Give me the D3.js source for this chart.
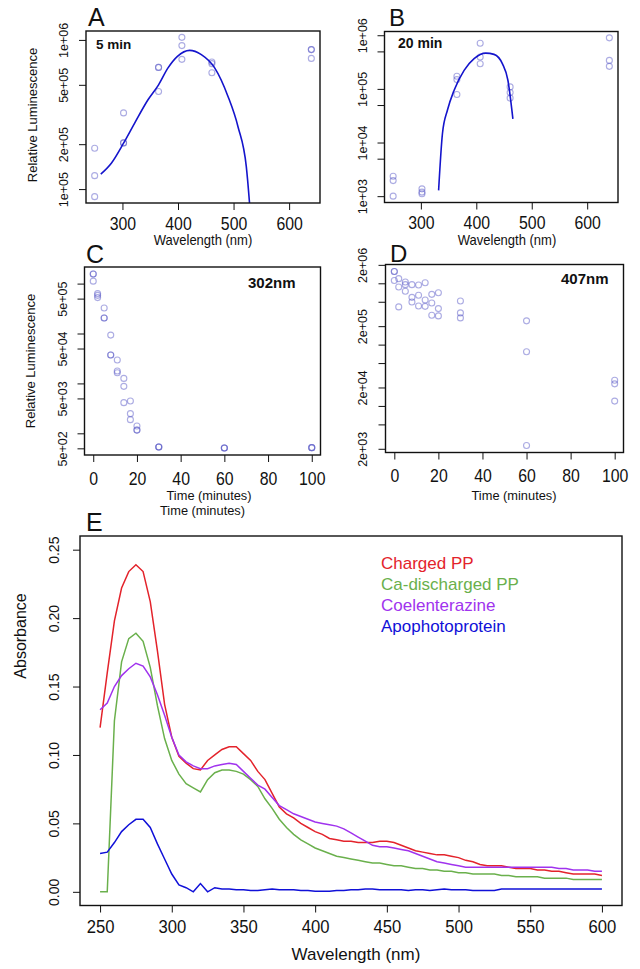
<!DOCTYPE html>
<html><head><meta charset="utf-8">
<script src="https://cdn.jsdelivr.net/npm/d3@7"></script>
<style>
body{margin:0;background:#fff;}
svg text{font-family:"Liberation Sans",Arial,Helvetica,sans-serif;}
</style></head><body>
<svg id="fig" width="640" height="969"></svg>
<script>
// ---------- Panel A: 5 min ----------
const wlA  = [250,250,250, 302,302,302, 365,365,365, 407,407,407, 461,461,461, 640,640,640];
const lumA = [1.88e5,1.23e5,8.9e4, 3.24e5,2.04e5,2.04e5, 6.54e5,6.54e5,4.51e5, 1.04e6,9.16e5,7.41e5, 7.11e5,6.93e5,6.03e5, 8.61e5,8.61e5,7.52e5];
const fitWlA  = [261,280,302,322,346,365,382,399,421,442,466,490,508,523,533];
const fitLumA = [1.26e5,1.49e5,2.03e5,2.77e5,3.97e5,5.0e5,6.49e5,7.76e5,8.51e5,7.96e5,6.49e5,4.18e5,2.62e5,1.41e5,5e4];
const yTicksA = [1e5,2e5,5e5,1e6];
const yLabelsA = ["1e+05","2e+05","5e+05","1e+06"];

// ---------- Panel B: 20 min ----------
const wlB  = [250,250,250, 302,302,302, 365,365,365, 407,407,407, 461,461,461, 640,640,640];
const lumB = [2.35e3,1.95e3,1.0e3, 1.37e3,1.19e3,1.11e3, 1.72e5,1.49e5,7.87e4, 7.1e5,3.92e5,2.95e5, 1.09e5,8.57e4,6.73e4, 8.95e5,3.4e5,2.63e5];
const fitWlB  = [332,339,348,360,378,396,417,432,447,457,466];
const fitLumB = [1.28e3,1.49e4,4.04e4,9.46e4,2.22e5,3.66e5,4.65e5,4.4e5,2.95e5,1.45e5,2.75e4];
const yTicksB = [1e3,5e3,1e4,5e4,1e5,5e5,1e6];
const yLabelsB = ["1e+03","","1e+04","","1e+05","","1e+06"];

const wlTicks = [300,400,500,600];

// ---------- Panel C: 302nm ----------
const timeC = [0,0,0, 2,2,2, 5,5,5, 8,8,8, 11,11,11, 14,14,14, 17,17,17, 20,20,20, 30,30,30, 60,60,60, 100,100,100];
const lumC  = [1.56e6,1.56e6,1.12e6, 6.3e5,5.82e5,5.24e5, 3.24e5,2.04e5,2.04e5, 9.3e4,3.7e4,3.7e4, 2.94e4,1.77e4,1.64e4,
               1.26e4,8.74e3,4.12e3, 4.44e3,2.48e3,1.88e3, 1.4e3,1.16e3,1.16e3, 531,531,531, 507,507,507, 516,516,516];
const yTicksC = [5e2,1e3,5e3,1e4,5e4,1e5,5e5,1e6];
const yLabelsC = ["5e+02","","5e+03","","5e+04","","5e+05",""];

// ---------- Panel D: 407nm ----------
const timeD = [0,0,0, 2,2,2, 5,5,5, 8,8,8, 11,11,11, 14,14,14, 17,17,17, 20,20,20, 30,30,30, 60,60,60, 100,100,100];
const lumD  = [1.56e6,1.56e6,1.11e6, 1.19e6,8.7e5,4.12e5, 1.05e6,9.5e5,7.4e5, 9.5e5,5.9e5,4.96e5, 9.4e5,6.37e5,4.27e5,
               1.02e6,5.35e5,4.21e5, 6.6e5,4.78e5,3.01e5, 7.03e5,3.87e5,2.94e5, 5.15e5,3.29e5,2.73e5, 2.44e5,7.67e4,2.26e3, 2.63e4,2.29e4,1.2e4];
const yTicksD = [2e3,5e3,1e4,2e4,5e4,1e5,2e5,5e5,1e6,2e6];
const yLabelsD = ["2e+03","","","2e+04","","","2e+05","","","2e+06"];

const timeTicks = [0,20,40,60,80,100];

// ---------- Panel E: absorbance spectra ----------
const specWl = [250,255,260,265,270,275,280,285,290,295,300,305,310,315,320,325,330,335,340,345,350,355,360,365,370,375,380,385,390,395,
                400,405,410,415,420,425,430,435,440,445,450,455,460,465,470,475,480,485,490,495,500,505,510,515,520,525,530,535,540,545,
                550,555,560,565,570,575,580,585,590,595,600];
const chargedPP = [0.120,0.160,0.198,0.222,0.234,0.239,0.234,0.212,0.176,0.137,0.113,0.099,0.094,0.090,0.089,0.096,0.100,0.104,0.106,0.106,
                   0.101,0.096,0.088,0.082,0.072,0.062,0.057,0.054,0.050,0.047,0.044,0.042,0.039,0.038,0.037,0.037,0.036,0.036,0.036,0.037,
                   0.037,0.036,0.034,0.032,0.030,0.029,0.028,0.027,0.027,0.026,0.025,0.023,0.022,0.020,0.019,0.019,0.019,0.018,0.017,0.017,
                   0.017,0.016,0.016,0.015,0.015,0.014,0.013,0.013,0.013,0.013,0.012];
const caDischargedPP = [0.000,0.000,0.125,0.168,0.185,0.189,0.183,0.164,0.136,0.112,0.096,0.086,0.079,0.076,0.073,0.082,0.087,0.089,0.089,0.088,
                   0.086,0.082,0.077,0.068,0.061,0.053,0.047,0.042,0.038,0.035,0.032,0.030,0.028,0.026,0.025,0.024,0.023,0.022,0.021,0.021,
                   0.020,0.019,0.019,0.018,0.017,0.017,0.016,0.016,0.015,0.015,0.014,0.014,0.013,0.013,0.013,0.013,0.012,0.012,0.011,0.011,
                   0.011,0.011,0.010,0.010,0.010,0.010,0.009,0.009,0.009,0.009,0.009];
const coelenterazine = [0.133,0.138,0.150,0.158,0.163,0.167,0.165,0.157,0.144,0.129,0.113,0.100,0.095,0.092,0.090,0.090,0.092,0.093,0.094,0.093,
                   0.088,0.083,0.078,0.075,0.069,0.063,0.060,0.057,0.055,0.053,0.051,0.050,0.049,0.048,0.046,0.043,0.040,0.037,0.034,0.033,
                   0.033,0.032,0.031,0.030,0.028,0.026,0.024,0.022,0.021,0.020,0.019,0.018,0.018,0.018,0.018,0.018,0.018,0.018,0.018,0.018,
                   0.018,0.018,0.018,0.018,0.017,0.017,0.016,0.016,0.016,0.015,0.015];
const apophotoprotein = [0.028,0.029,0.036,0.044,0.049,0.053,0.053,0.047,0.035,0.024,0.013,0.005,0.003,0.000,0.006,0.000,0.003,0.002,0.002,0.0015,
                   0.0015,0.001,0.001,0.0015,0.002,0.0015,0.0015,0.0015,0.001,0.001,0.0005,0.0005,0.0005,0.001,0.001,0.0015,0.0015,0.002,0.002,0.0015,
                   0.0015,0.0015,0.0015,0.001,0.0015,0.0015,0.001,0.0015,0.002,0.0015,0.0015,0.0015,0.001,0.001,0.001,0.001,0.002,0.002,0.002,0.002,
                   0.002,0.002,0.002,0.002,0.002,0.002,0.002,0.002,0.002,0.002,0.002];
const seriesNames = ["Charged PP","Ca-discharged PP","Coelenterazine","Apophotoprotein"];
const seriesColors = ["#e3232b","#6ab04c","#a033ee","#1010d8"];
const absTicks = [0,0.05,0.10,0.15,0.20,0.25];
const absLabels = ["0.00","0.05","0.10","0.15","0.20","0.25"];
const specTicks = [250,300,350,400,450,500,550,600];

// ---------- helpers ----------
const svg = d3.select("#fig");
const FONT = '"Liberation Sans", Arial, Helvetica, sans-serif';
function linPad(v){ const e=d3.extent(v); const p=(e[1]-e[0])*0.04; return [e[0]-p,e[1]+p]; }
function logPad(v){ const e=d3.extent(v.map(Math.log10)); const p=(e[1]-e[0])*0.04; return [Math.pow(10,e[0]-p),Math.pow(10,e[1]+p)]; }

function addText(x,y,txt,opt){
  opt = opt||{};
  return svg.append("text").attr("x",0).attr("y",0)
    .attr("transform",`translate(${x},${y})` + (opt.rot?` rotate(${opt.rot})`:"") + (opt.sx?` scale(${opt.sx},1)`:""))
    .attr("font-size",opt.size||13).attr("text-anchor",opt.anchor||"start")
    .attr("font-weight",opt.bold?"bold":"normal").attr("fill",opt.color||"#111").attr("font-family",FONT)
    .text(txt);
}

function xAxis(x, o, ticks, size, sx){
  const g = svg.append("g").attr("transform",`translate(0,${o.b})`)
    .call(d3.axisBottom(x).tickValues(ticks).tickFormat(d=>d).tickSize(7).tickSizeOuter(0));
  g.select(".domain").remove();
  g.selectAll("line").attr("stroke","#111").attr("stroke-width",1);
  g.selectAll("text").attr("y",null).attr("dy",null)
    .attr("transform",`translate(0,${o.xlab-o.b}) scale(${sx},1)`)
    .attr("font-size",size).attr("font-family",FONT).attr("fill","#111");
}
function yAxis(y, o, ticks, labels, size){
  const g = svg.append("g").attr("transform",`translate(${o.l},0)`)
    .call(d3.axisLeft(y).tickValues(ticks).tickFormat((d,i)=>labels[i]).tickSize(7).tickSizeOuter(0));
  g.select(".domain").remove();
  g.selectAll("line").attr("stroke","#111").attr("stroke-width",1);
  g.selectAll("text").attr("x",null).attr("dy",null).attr("text-anchor","middle")
    .attr("transform",`translate(${-o.ylab},0) rotate(-90)`).attr("font-size",size).attr("font-family",FONT).attr("fill","#111");
}
function box(o){
  svg.append("rect").attr("x",o.l).attr("y",o.t).attr("width",o.r-o.l).attr("height",o.b-o.t)
    .attr("fill","none").attr("stroke","#111").attr("stroke-width",1.4);
}
function clip(o,id){
  svg.append("clipPath").attr("id",id).append("rect").attr("x",o.l).attr("y",o.t).attr("width",o.r-o.l).attr("height",o.b-o.t);
}

function scatterPanel(o){
  const x = d3.scaleLinear().domain(linPad(o.xs)).range([o.l,o.r]);
  const y = d3.scaleLog().domain(logPad(o.ys)).range([o.b,o.t]);
  clip(o,"clip"+o.id);
  svg.append("g").selectAll("circle").data(o.xs.map((d,i)=>[d,o.ys[i]])).join("circle")
    .attr("cx",d=>x(d[0])).attr("cy",d=>y(d[1])).attr("r",3)
    .attr("fill","none").attr("stroke","#5a5ac8").attr("stroke-opacity",0.5).attr("stroke-width",1.1);
  if(o.fx){
    const line = d3.line().x(d=>x(d[0])).y(d=>y(d[1])).curve(d3.curveMonotoneX);
    svg.append("path").attr("clip-path",`url(#clip${o.id})`)
      .attr("d",line(o.fx.map((d,i)=>[d,o.fy[i]])))
      .attr("fill","none").attr("stroke","#1414cc").attr("stroke-width",1.6);
  }
  xAxis(x,o,o.xt,18,0.88);
  yAxis(y,o,o.yt,o.yl,12.5);
  box(o);
}

// ---------- draw panels ----------
scatterPanel({id:"A",l:86,r:320,t:31,b:203,xlab:229.5,ylab:18,xs:wlA,ys:lumA,fx:fitWlA,fy:fitLumA,xt:wlTicks,yt:yTicksA,yl:yLabelsA});
scatterPanel({id:"B",l:384.5,r:618,t:31.5,b:202.5,xlab:228.5,ylab:18,xs:wlB,ys:lumB,fx:fitWlB,fy:fitLumB,xt:wlTicks,yt:yTicksB,yl:yLabelsB});
scatterPanel({id:"C",l:84.5,r:320.5,t:267,b:455,xlab:485,ylab:18,xs:timeC,ys:lumC,xt:timeTicks,yt:yTicksC,yl:yLabelsC});
scatterPanel({id:"D",l:385.5,r:623.5,t:264.5,b:452.5,xlab:481.5,ylab:19,xs:timeD,ys:lumD,xt:timeTicks,yt:yTicksD,yl:yLabelsD});

// panel texts
addText(88,26,"A",{size:25});
addText(389,26,"B",{size:24});
addText(86,263,"C",{size:25});
addText(390,262,"D",{size:24});
addText(86,531,"E",{size:25});

addText(96,49,"5 min",{size:13.5,bold:true});
addText(398,47.5,"20 min",{size:14,bold:true});
addText(248,288,"302nm",{size:15,bold:true});
addText(561,284,"407nm",{size:15,bold:true});

addText(37,115,"Relative Luminescence",{size:13,rot:-90,anchor:"middle"});
addText(35,361,"Relative Luminescence",{size:13,rot:-90,anchor:"middle"});
addText(203,244.5,"Wavelength (nm)",{size:14,anchor:"middle",sx:0.93});
addText(507,244.5,"Wavelength (nm)",{size:14,anchor:"middle",sx:0.93});
addText(209,499.5,"Time (minutes)",{size:13.5,anchor:"middle",sx:0.95});
addText(514,499.5,"Time (minutes)",{size:13.5,anchor:"middle",sx:0.95});
addText(202.5,515,"Time (minutes)",{size:13.5,anchor:"middle",sx:0.95});

// ---------- Panel E ----------
const oE = {l:80,r:622,t:536,b:905.5,xlab:932.5,ylab:21};
const xE = d3.scaleLinear().domain(linPad(specWl)).range([oE.l,oE.r]);
const yE = d3.scaleLinear().domain(linPad([0,0.25])).range([oE.b,oE.t]);
clip(oE,"clipE");
const allSeries = [chargedPP,caDischargedPP,coelenterazine,apophotoprotein];
const lineE = d3.line().x((d,i)=>xE(specWl[i])).y(d=>yE(d));
svg.append("g").attr("clip-path","url(#clipE)").selectAll("path").data(allSeries).join("path")
  .attr("d",d=>lineE(d)).attr("fill","none").attr("stroke",(d,i)=>seriesColors[i]).attr("stroke-width",1.5);
xAxis(xE,oE,specTicks,18.5,0.9);
yAxis(yE,oE,absTicks,absLabels,14);
box(oE);
addText(356,960,"Wavelength (nm)",{size:17,anchor:"middle"});
addText(26,636,"Absorbance",{size:16,rot:-90,anchor:"middle"});
seriesNames.forEach((n,i)=>addText(381,569+i*21,n,{size:17,color:seriesColors[i]}));
</script>
</body></html>
